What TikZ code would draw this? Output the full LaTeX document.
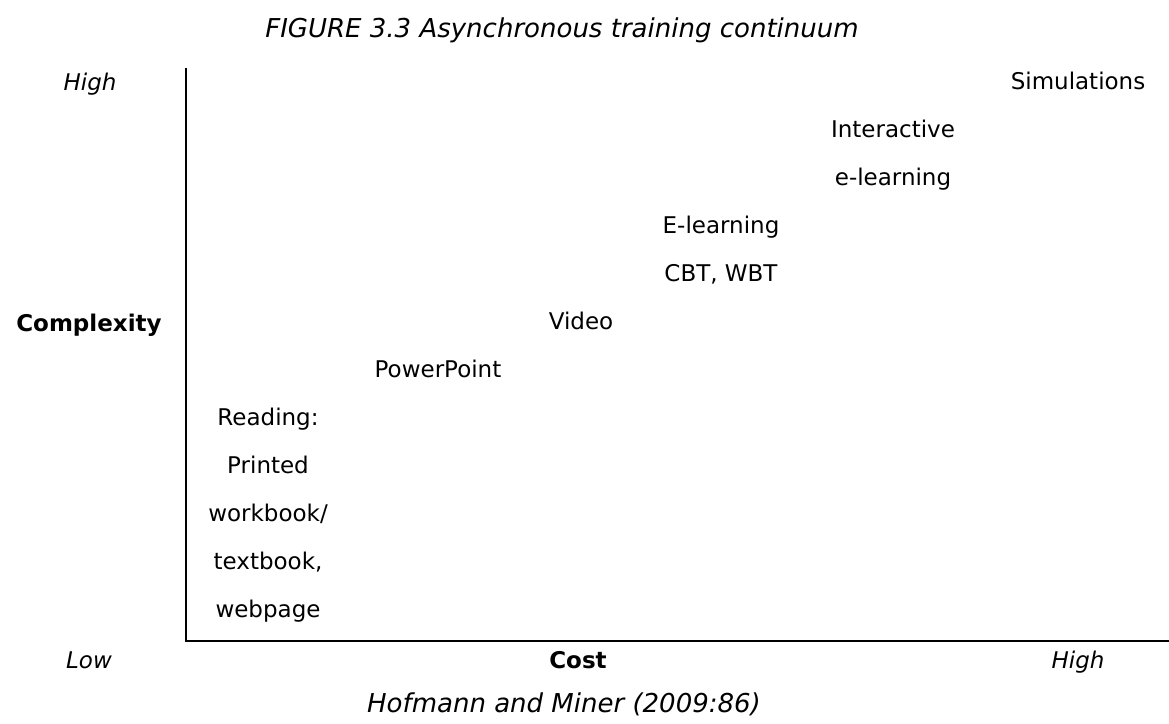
\documentclass[tikz,border=0pt]{standalone}
\usepackage{fontspec}
\setmainfont{DejaVu Sans}
\begin{document}
\begin{tikzpicture}[x=1pt,y=-1pt,
  lbl/.style={inner sep=0pt, anchor=base, font=\fontsize{23}{27}\selectfont},
  ital/.style={lbl, font=\fontsize{23}{27}\selectfont\itshape},
  bigital/.style={lbl, font=\fontsize{26}{30}\selectfont\itshape},
  boldlbl/.style={lbl, font=\fontsize{23}{27}\selectfont\bfseries},
  axis/.style={line width=2.5pt}]
\useasboundingbox (0,0) rectangle (1169,723);
% axes
\coordinate (top) at (186,68);
\coordinate (origin) at (186,641);
\coordinate (rightend) at (1169,641);
\draw[axis] (top) -- (origin) -- (rightend);
% title and source
\node[bigital] (title) at (562,37) {FIGURE 3.3 Asynchronous training continuum};
\node[bigital] (source) at (564,712) {Hofmann and Miner (2009:86)};
% axis labels
\node[ital] (yhigh) at (90,90) {High};
\node[boldlbl] (ylab) at (89,331) {Complexity};
\node[ital] (xlow) at (89,668) {Low};
\node[boldlbl] (xlab) at (578,668) {Cost};
\node[ital] (xhigh) at (1078,668) {High};
% items
\node[lbl] (sim) at (1078,89) {Simulations};
\node[lbl] (inter1) at (893,137) {Interactive};
\node[lbl] (inter2) at (893,185) {e-learning};
\node[lbl] (el1) at (721,233) {E-learning};
\node[lbl] (el2) at (721,281) {CBT, WBT};
\node[lbl] (video) at (581,329) {Video};
\node[lbl] (ppt) at (438,377) {PowerPoint};
\node[lbl] (r1) at (268,425) {Reading:};
\node[lbl] (r2) at (268,473) {Printed};
\node[lbl] (r3) at (268,521) {workbook/};
\node[lbl] (r4) at (268,569) {textbook,};
\node[lbl] (r5) at (268,617) {webpage};
\end{tikzpicture}
\end{document}
